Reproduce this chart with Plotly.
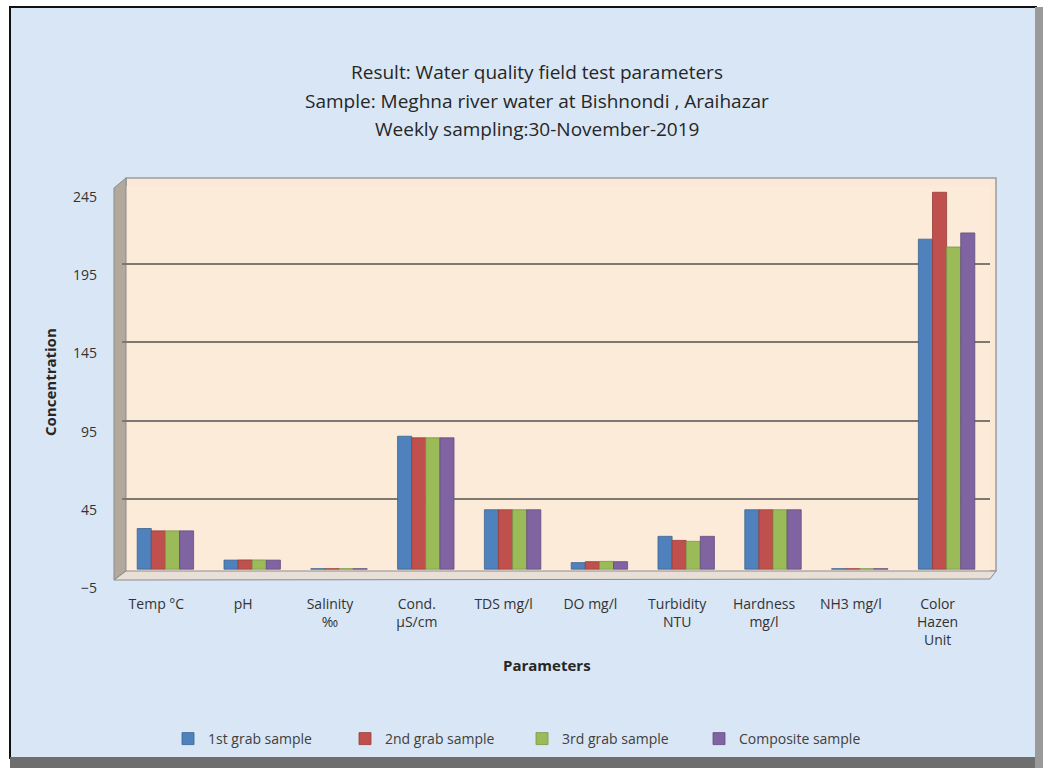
import plotly.graph_objects as go

categories = ["Temp °C", "pH", "Salinity<br>‰", "Cond.<br>µS/cm", "TDS mg/l", "DO mg/l",
              "Turbidity<br>NTU", "Hardness<br>mg/l", "NH3 mg/l", "Color<br>Hazen<br>Unit"]
grab1 = [26, 5.8, 0.3, 85, 38, 4.2, 21, 38, 0.3, 211]
grab2 = [24.5, 5.9, 0.3, 84, 38, 4.8, 18.4, 38, 0.3, 241]
grab3 = [24.5, 5.9, 0.3, 84, 38, 5.0, 17.8, 38, 0.3, 206]
composite = [24.5, 5.8, 0.3, 84, 38, 4.8, 21, 38, 0.3, 215]
series_names = ["1st grab sample", "2nd grab sample", "3rd grab sample", "Composite sample"]
y_ticks = [-5, 45, 95, 145, 195, 245]

colors = ["#4F81BD", "#C0504D", "#9BBB59", "#8064A2"]
edge = ["#3A6391", "#973C39", "#7A9645", "#624C7E"]

W, H = 1043, 768
L, R, T, B = 122, 990, 186, 577


def px(x):
    return (x - L) / (R - L)


def py(y):
    return (B - y) / (B - T)


fig = go.Figure()
for name, vals, c, e in zip(series_names, [grab1, grab2, grab3, composite], colors, edge):
    fig.add_bar(x=categories, y=vals, name=name, marker_color=c,
                marker_line_color=e, marker_line_width=0.8)

font_main = "'Open Sans', Lato, sans-serif"
txt = "#333333"

shapes = [
    dict(type="rect", xref="paper", yref="paper", x0=px(10), x1=px(1036), y0=py(758), y1=py(7),
         fillcolor="#D9E6F5", line=dict(color="#111111", width=2), layer="below"),
    dict(type="rect", xref="paper", yref="paper", x0=px(10), x1=px(1038), y0=py(768), y1=py(757),
         fillcolor="#6E6E6E", line=dict(width=0), layer="below"),
    dict(type="rect", xref="paper", yref="paper", x0=px(1035), x1=px(1043), y0=py(768), y1=py(7),
         fillcolor="#9A9A9A", line=dict(width=0), layer="below"),
    dict(type="rect", xref="paper", yref="paper", x0=px(126), x1=px(996), y0=py(571), y1=py(178),
         fillcolor="#FBE8D6", line=dict(color="#9C9C9C", width=1.5), layer="below"),
    dict(type="rect", xref="paper", yref="paper", x0=px(L), x1=px(R), y0=0, y1=1,
         fillcolor="#FDEBDA", line=dict(width=0), layer="below"),
    dict(type="path", xref="paper", yref="paper",
         path=f"M {px(114)},{py(188)} L {px(126)},{py(178)} L {px(126)},{py(571)} L {px(114)},{py(580)} Z",
         fillcolor="#B3A89C", line=dict(color="#8C8C8C", width=1), layer="below"),
    dict(type="path", xref="paper", yref="paper",
         path=f"M {px(114)},{py(580)} L {px(126)},{py(571)} L {px(996)},{py(571)} L {px(990)},{py(579)} Z",
         fillcolor="#E8E0D8", line=dict(color="#8C8C8C", width=1), layer="below"),
]

titles = ["Result: Water quality field test parameters",
          "Sample: Meghna river water at Bishnondi , Araihazar",
          "Weekly sampling:30-November-2019"]
title_y = [72, 101, 129]
annotations = [dict(text=t, xref="paper", yref="paper", x=px(537), y=py(yy), xanchor="center",
                    yanchor="middle", showarrow=False,
                    font=dict(family=font_main, size=19, color="#262626"))
               for t, yy in zip(titles, title_y)]
annotations.append(dict(text="<b>Parameters</b>", xref="paper", yref="paper", x=px(547), y=py(665),
                        xanchor="center", yanchor="middle", showarrow=False,
                        font=dict(family=font_main, size=15, color="#262626")))
annotations.append(dict(text="<b>Concentration</b>", xref="paper", yref="paper", x=px(50), y=py(382),
                        xanchor="center", yanchor="middle", showarrow=False, textangle=-90,
                        font=dict(family=font_main, size=15, color="#262626")))

fig.update_layout(
    width=W, height=H,
    margin=dict(l=L, r=W - R, t=T, b=H - B, autoexpand=False),
    paper_bgcolor="white", plot_bgcolor="rgba(0,0,0,0)",
    barmode="group", bargap=0.35, bargroupgap=0.0,
    shapes=shapes, annotations=annotations,
    showlegend=True,
    legend=dict(orientation="h", xref="paper", yref="paper", x=px(168), y=py(739),
                xanchor="left", yanchor="middle", bgcolor="rgba(0,0,0,0)",
                font=dict(family=font_main, size=14, color="#404040"),
                entrywidth=132, itemwidth=30),
    font=dict(family=font_main, color=txt),
)
fig.update_yaxes(range=[-5, 245], tickvals=y_ticks, showgrid=True, gridcolor="#7E7873", gridwidth=1.5,
                 zeroline=False, showline=False, ticks="", ticklabelstandoff=24, ticklabelshift=11,
                 tickfont=dict(family=font_main, size=14, color=txt), automargin=False)
fig.update_xaxes(showgrid=False, showline=False, ticks="", ticklabelstandoff=17, ticklabelshift=-9,
                 tickfont=dict(family=font_main, size=14, color=txt), automargin=False,
                 tickangle=0)

fig.write_html("out.html")
